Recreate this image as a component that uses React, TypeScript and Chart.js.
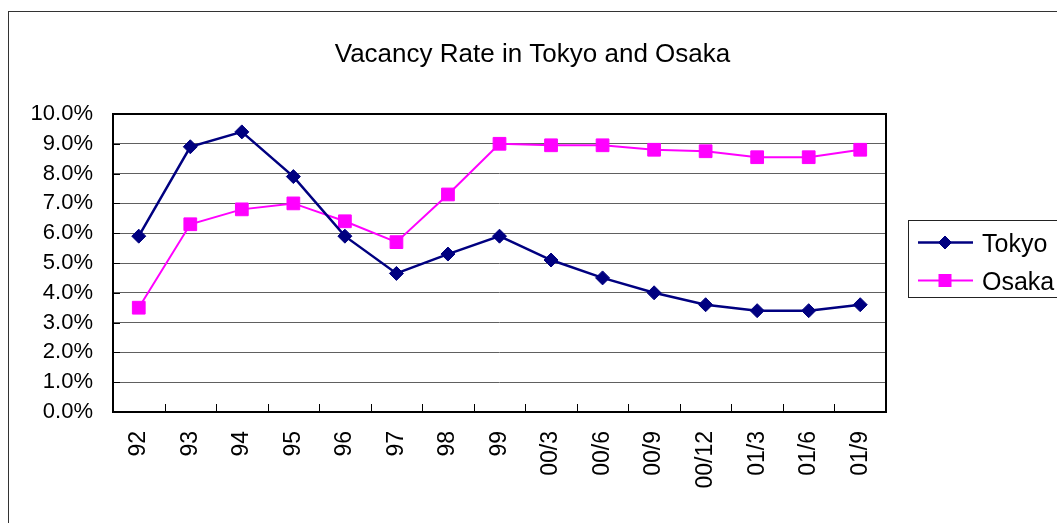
import React, { useEffect, useRef } from 'react';
import { Chart, registerables } from 'chart.js';

Chart.register(...registerables);

const titleText = 'Vacancy Rate in Tokyo and Osaka';
const categories = ['92', '93', '94', '95', '96', '97', '98', '99', '00/3', '00/6', '00/9', '00/12', '01/3', '01/6', '01/9'];
const seriesNames = ['Tokyo', 'Osaka'];
const tokyo = [5.9, 8.9, 9.4, 7.9, 5.9, 4.65, 5.3, 5.9, 5.1, 4.5, 4.0, 3.6, 3.4, 3.4, 3.6];
const osaka = [3.5, 6.3, 6.8, 7.0, 6.4, 5.7, 7.3, 9.0, 8.95, 8.95, 8.8, 8.75, 8.55, 8.55, 8.8];
const yMin = 0;
const yMax = 10;
const yStep = 1;

const FONT = '"Liberation Sans", Arial, Helvetica, sans-serif';
const NAVY = '#000080';
const MAGENTA = '#FF00FF';
const W = 1057;
const H = 523;

function drawDiamond(ctx: CanvasRenderingContext2D, x: number, y: number, r: number, color: string) {
  ctx.beginPath();
  ctx.moveTo(x - r, y);
  ctx.lineTo(x, y - r);
  ctx.lineTo(x + r, y);
  ctx.lineTo(x, y + r);
  ctx.closePath();
  ctx.fillStyle = color;
  ctx.fill();
  ctx.strokeStyle = color;
  ctx.lineWidth = 1;
  ctx.stroke();
}

function drawSquare(ctx: CanvasRenderingContext2D, x: number, y: number, s: number, color: string) {
  ctx.fillStyle = color;
  ctx.fillRect(x - s / 2, y - s / 2, s, s);
}

const decorPlugin = {
  id: 'decor',
  beforeDatasetsDraw(chart: any) {
    const { ctx, chartArea: a, scales } = chart;
    ctx.save();
    ctx.strokeStyle = '#000';
    ctx.lineWidth = 1;
    const ys = scales.y;
    ctx.beginPath();
    ys.ticks.forEach((_t: any, i: number) => {
      const py = Math.round(ys.getPixelForTick(i)) + 0.5;
      ctx.moveTo(a.left, py);
      ctx.lineTo(a.left + 7, py);
    });
    const xs = scales.x;
    for (let i = 1; i < categories.length; i++) {
      const px = Math.round((xs.getPixelForValue(i - 1) + xs.getPixelForValue(i)) / 2) + 0.5;
      ctx.moveTo(px, a.bottom);
      ctx.lineTo(px, a.bottom - 8);
    }
    ctx.stroke();
    ctx.lineWidth = 2;
    ctx.strokeStyle = '#000';
    ctx.strokeRect(a.left, a.top, a.right - a.left, a.bottom - a.top);
    ctx.restore();
  },
  afterDraw(chart: any) {
    const { ctx } = chart;
    ctx.save();
    ctx.fillStyle = '#000';
    ctx.font = `26px ${FONT}`;
    ctx.textAlign = 'center';
    ctx.textBaseline = 'alphabetic';
    ctx.fillText(titleText, 532.5, 62);
    ctx.strokeStyle = '#222';
    ctx.lineWidth = 1;
    ctx.strokeRect(908.5, 220.5, 200, 77);
    const rows = [
      { name: seriesNames[0], color: NAVY, y: 242.5, base: 252, marker: 'diamond', lw: 2.5 },
      { name: seriesNames[1], color: MAGENTA, y: 280.5, base: 289.5, marker: 'square', lw: 2 },
    ];
    rows.forEach((r) => {
      ctx.strokeStyle = r.color;
      ctx.lineWidth = r.lw;
      ctx.beginPath();
      ctx.moveTo(918, r.y);
      ctx.lineTo(973, r.y);
      ctx.stroke();
      if (r.marker === 'diamond') drawDiamond(ctx, 945, r.y, 6.5, r.color);
      else drawSquare(ctx, 945, r.y, 13, r.color);
      ctx.fillStyle = '#000';
      ctx.font = `25px ${FONT}`;
      ctx.textAlign = 'left';
      ctx.textBaseline = 'alphabetic';
      ctx.fillText(r.name, 982, r.base);
    });
    ctx.restore();
  },
};

export default function App() {
  const ref = useRef<HTMLCanvasElement | null>(null);

  useEffect(() => {
    if (!ref.current) return;
    const chart = new Chart(ref.current, {
      type: 'line',
      data: {
        labels: categories,
        datasets: [
          {
            label: seriesNames[0],
            data: tokyo,
            borderColor: NAVY,
            backgroundColor: NAVY,
            borderWidth: 2.5,
            pointStyle: 'rectRot',
            pointRadius: 7,
            pointBorderWidth: 1,
            pointBackgroundColor: NAVY,
            pointBorderColor: NAVY,
            tension: 0,
            fill: false,
          },
          {
            label: seriesNames[1],
            data: osaka,
            borderColor: MAGENTA,
            backgroundColor: MAGENTA,
            borderWidth: 2,
            pointStyle: 'rect',
            pointRadius: 9,
            pointBorderWidth: 1,
            pointBackgroundColor: MAGENTA,
            pointBorderColor: MAGENTA,
            tension: 0,
            fill: false,
          },
        ],
      },
      options: {
        animation: false,
        responsive: false,
        maintainAspectRatio: false,
        devicePixelRatio: 1,
        events: [],
        layout: { padding: { left: 0, top: 114, right: W - 886, bottom: 0 } },
        plugins: {
          legend: { display: false },
          tooltip: { enabled: false },
          title: { display: false },
        },
        scales: {
          x: {
            type: 'category',
            offset: true,
            grid: { display: false, drawTicks: false },
            border: { display: false },
            ticks: {
              autoSkip: false,
              maxRotation: 90,
              minRotation: 90,
              padding: 19,
              color: '#000',
              font: { family: FONT, size: 23 },
            },
            afterFit: (s: any) => {
              s.height = H - 412;
            },
          },
          y: {
            min: yMin,
            max: yMax,
            grid: { color: '#606060', lineWidth: 1, drawTicks: false },
            border: { display: false },
            ticks: {
              stepSize: yStep,
              padding: 20,
              color: '#000',
              font: { family: FONT, size: 22 },
              callback: (v: any) => Number(v).toFixed(1) + '%',
            },
            afterFit: (s: any) => {
              s.width = 113;
            },
          },
        },
      },
      plugins: [decorPlugin],
    });
    return () => chart.destroy();
  }, []);

  return (
    <div style={{ position: 'fixed', left: 0, top: 0, width: W, height: H, overflow: 'hidden', background: '#fff' }}>
      <div
        style={{
          position: 'absolute',
          left: 8,
          top: 11,
          width: 1200,
          height: 700,
          border: '1px solid #333',
          boxSizing: 'border-box',
        }}
      />
      <canvas ref={ref} width={W} height={H} style={{ position: 'absolute', left: 0, top: 0, width: W, height: H }} />
    </div>
  );
}
